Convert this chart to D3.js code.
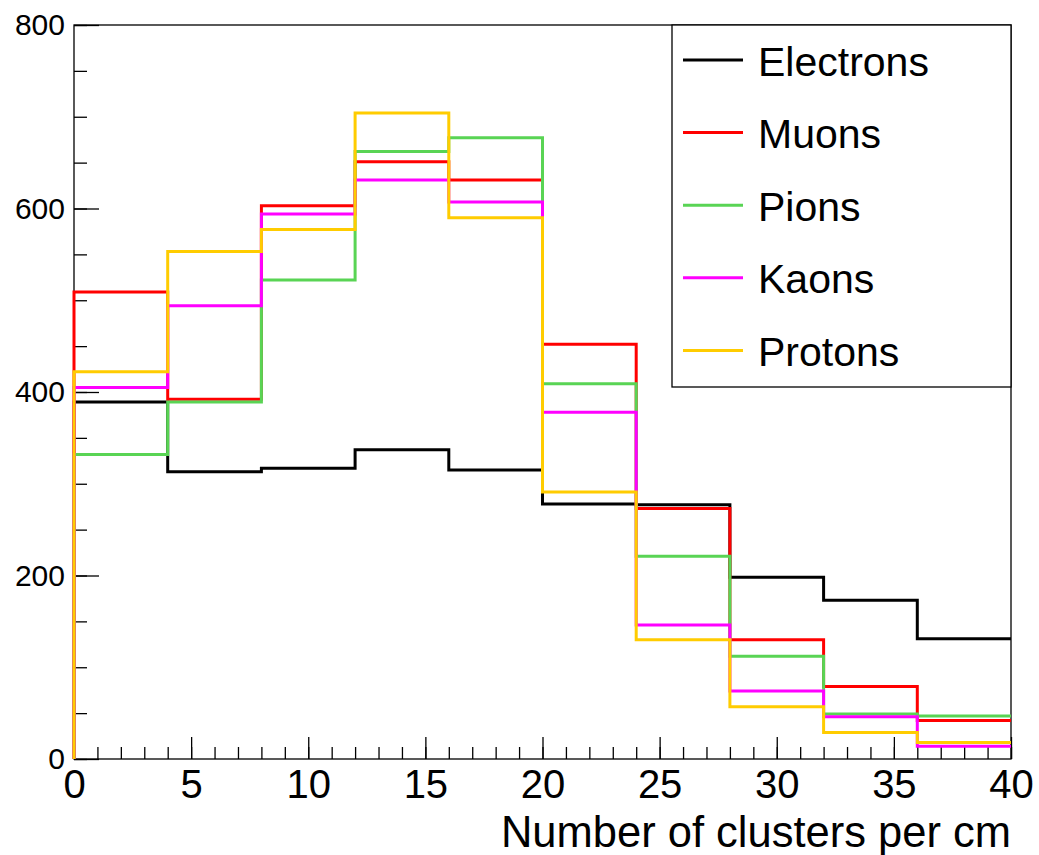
<!DOCTYPE html>
<html>
<head>
<meta charset="utf-8">
<script src="https://cdn.jsdelivr.net/npm/d3@7/dist/d3.min.js"></script>
<style>
  html, body { margin: 0; padding: 0; background: #fff; }
  svg { display: block; }
  text { font-family: "Liberation Sans", Arial, Helvetica, sans-serif; fill: #000; }
</style>
</head>
<body>
<svg id="chart" width="1039" height="855"></svg>
<script>
// ---- data ----
const binEdges = [0, 4, 8, 12, 16, 20, 24, 28, 32, 36, 40];
const seriesNames = ["Electrons", "Muons", "Pions", "Kaons", "Protons"];
const seriesColors = ["#000000", "#ff0000", "#59d454", "#ff00ff", "#ffcc00"];
const electrons = [389, 313, 317, 337, 315, 278, 277, 198, 173, 131];
const muons     = [509, 392, 603, 651, 631, 452, 273, 130, 79, 42];
const pions     = [332, 389, 522, 662, 677, 409, 221, 112, 49, 47];
const kaons     = [405, 494, 594, 631, 607, 378, 146, 74, 46, 14];
const protons   = [422, 553, 577, 704, 590, 291, 130, 57, 29, 18];
const seriesValues = [electrons, muons, pions, kaons, protons];
const xMajorTicks = [0, 5, 10, 15, 20, 25, 30, 35, 40];
const yMajorTicks = [0, 200, 400, 600, 800];
const xTitle = "Number of clusters per cm";

// ---- layout ----
const svg = d3.select("#chart");
const x = d3.scaleLinear().domain([0, 40]).range([74, 1011]);
const y = d3.scaleLinear().domain([0, 800]).range([759, 25]);

// frame
svg.append("rect")
  .attr("x", x(0)).attr("y", y(800))
  .attr("width", x(40) - x(0)).attr("height", y(0) - y(800))
  .attr("fill", "none").attr("stroke", "#000").attr("stroke-width", 1.3);

// x axis minor ticks
const xMinor = d3.range(0, 41, 1);
svg.append("g").attr("transform", `translate(0,${y(0)})`)
  .call(d3.axisBottom(x).tickValues(xMinor).tickSizeInner(-12).tickSizeOuter(0).tickFormat(""))
  .call(g => g.select(".domain").remove())
  .call(g => g.selectAll("line").attr("stroke", "#000").attr("stroke-width", 1.3));
// x axis major
svg.append("g").attr("transform", `translate(0,${y(0)})`)
  .call(d3.axisBottom(x).tickValues(xMajorTicks).tickSizeInner(-22).tickSizeOuter(0).tickPadding(11).tickFormat(d3.format("d")))
  .call(g => g.select(".domain").remove())
  .call(g => g.selectAll("line").attr("stroke", "#000").attr("stroke-width", 1.3))
  .call(g => g.selectAll("text").style("font-size", "40px").attr("fill", "#000")
      .style("font-family", '"Liberation Sans", Arial, sans-serif'));

// y axis minor ticks
const yMinor = d3.range(0, 801, 50);
svg.append("g").attr("transform", `translate(${x(0)},0)`)
  .call(d3.axisLeft(y).tickValues(yMinor).tickSizeInner(-13).tickSizeOuter(0).tickFormat(""))
  .call(g => g.select(".domain").remove())
  .call(g => g.selectAll("line").attr("stroke", "#000").attr("stroke-width", 1.3));
// y axis major
svg.append("g").attr("transform", `translate(${x(0)},0)`)
  .call(d3.axisLeft(y).tickValues(yMajorTicks).tickSizeInner(-25).tickSizeOuter(0).tickPadding(9).tickFormat(d3.format("d")))
  .call(g => g.select(".domain").remove())
  .call(g => g.selectAll("line").attr("stroke", "#000").attr("stroke-width", 1.3))
  .call(g => g.selectAll("text").style("font-size", "30px").attr("fill", "#000")
      .style("font-family", '"Liberation Sans", Arial, sans-serif'));

// x title
svg.append("text")
  .attr("x", x(40)).attr("y", 846.5)
  .attr("text-anchor", "end")
  .style("font-size", "43.5px")
  .text(xTitle);

// histograms
const line = d3.line().x(d => x(d[0])).y(d => y(d[1]));
seriesValues.forEach((vals, i) => {
  const pts = [[binEdges[0], 0]];
  vals.forEach((v, j) => {
    pts.push([binEdges[j], v]);
    pts.push([binEdges[j + 1], v]);
  });
  svg.append("path")
    .attr("d", line(pts))
    .attr("fill", "none")
    .attr("stroke", seriesColors[i])
    .attr("stroke-width", 3)
    .attr("stroke-linejoin", "miter")
    .attr("stroke-linecap", "butt");
});

// legend
const lg = svg.append("g");
lg.append("rect")
  .attr("x", 672).attr("y", 25).attr("width", 339).attr("height", 362)
  .attr("fill", "#fff").attr("stroke", "#000").attr("stroke-width", 1.3);
seriesNames.forEach((name, i) => {
  const cy = 60 + i * 72.6;
  lg.append("line")
    .attr("x1", 683).attr("x2", 743).attr("y1", cy).attr("y2", cy)
    .attr("stroke", seriesColors[i]).attr("stroke-width", 3);
  lg.append("text")
    .attr("x", 758).attr("y", cy + 15.5)
    .style("font-size", "41px")
    .text(name);
});
</script>
</body>
</html>
